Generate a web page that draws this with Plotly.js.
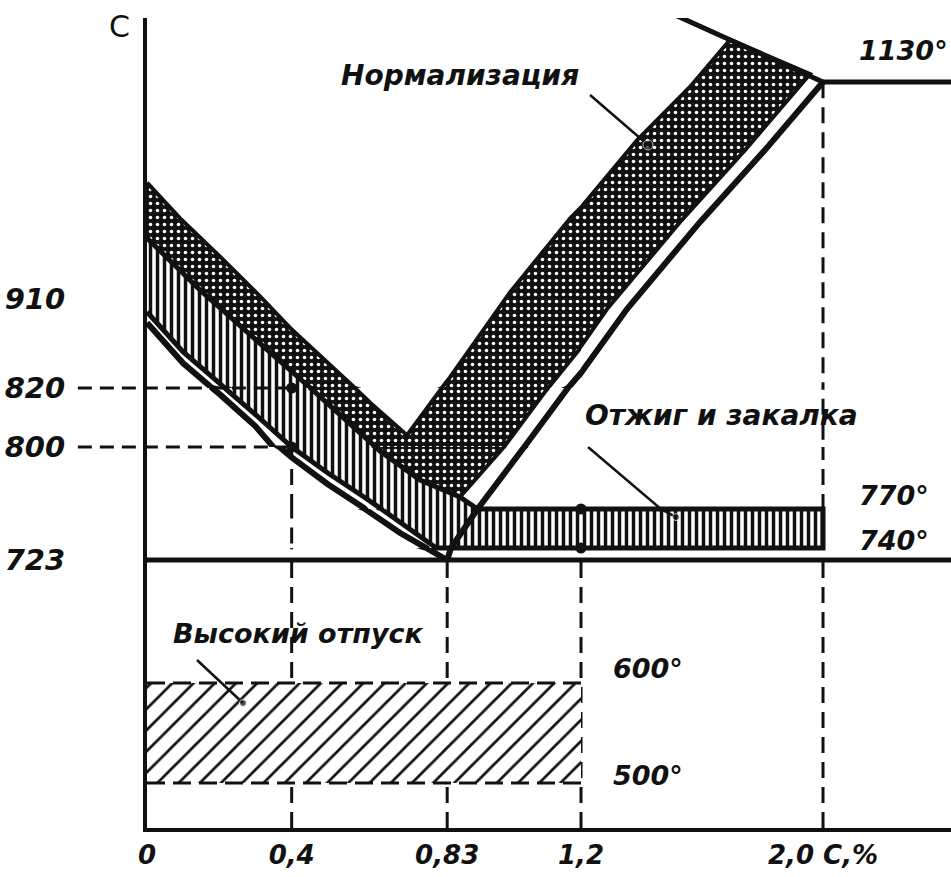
<!DOCTYPE html>
<html>
<head>
<meta charset="utf-8">
<script src="https://cdn.plot.ly/plotly-3.0.1.min.js"></script>
<style>
html,body{margin:0;padding:0;background:#fff;}
#chart{width:951px;height:877px;}
</style>
</head>
<body>
<div id="chart"></div>
<script>
// ---------- data: carbon content, % (C) and temperature, °C (T) ----------
// GS line (A3)
const gsC = [0, 0.1, 0.18, 0.2, 0.3, 0.366, 0.4, 0.5, 0.6, 0.7, 0.772, 0.83];
const gsT = [886, 845, 820, 818, 807, 800, 795, 782, 770.5, 751.5, 740, 723];
// SE line (Acm)
const acmC = [0.83, 0.8405, 0.914, 1.043, 1.156, 1.164, 1.352, 1.593, 1.808, 2.0];
const acmT = [723, 740, 770, 800, 818.6, 820, 900, 988, 1061, 1130];
// solidus above point E
const solidusC = [1.51, 2.0];
const solidusT = [1198, 1130];
// eutectic line 1130
const eutecticC = [2.0, 2.6];
const eutecticT = [1130, 1130];
// eutectoid line 723
const eutectoidC = [0, 2.6];
const eutectoidT = [723, 723];

// Normalization zone
const normTopC = [0, 0.091, 0.202, 0.312, 0.401, 0.506, 0.575, 0.617, 0.719];
const normTopT = [1028, 992, 953, 913, 879, 843, 820, 815, 804];
const normLeftEdgeC = [0.719, 0.815, 0.838, 1.004, 1.17, 1.385, 1.56, 1.693];
const normLeftEdgeT = [804, 820, 831, 917, 992, 1071, 1125, 1173];
const normRightEdgeC = [1.957, 1.742, 1.527, 1.286, 1.109, 1.1, 0.987, 0.865];
const normRightEdgeT = [1138, 1061, 988, 900, 820, 818.6, 800, 775.8];

// Annealing and hardening zone
const hardTopC = [0.865, 0.755, 0.644, 0.632, 0.534, 0.452, 0.401, 0.285, 0.147, 0];
const hardTopT = [775.8, 784, 798, 800, 811, 820, 836, 874, 919, 972];
const hardBottomC = [0, 0.1, 0.2, 0.215, 0.3, 0.4, 0.5, 0.6, 0.648, 0.7, 0.8];
const hardBottomT = [897, 856.5, 825, 820, 811, 800, 787.4, 775.8, 770, 760, 740];
const bandC = [0.914, 2.0];
const bandT = [740, 770];

// High tempering zone
const temperC = [0, 1.2];
const temperT = [500, 600];

// guide lines and points
const guideC = [0.4, 0.83, 1.2, 2.0];
const guideTopT = [820, 723, 770, 1130];
const leftGuideT = [820, 800];
const pointC = [0.4, 0.4, 1.2, 1.2];
const pointT = [820, 800, 770, 740];

// tick labels
const xTickVals = [0, 0.4, 0.83, 1.2, 2.0];
const xTickText = ['0', '0,4', '0,83', '1,2', '2,0 C,%'];
const yTickVals = [723, 800, 820, 910];
const yTickText = ['723', '800', '820', '910'];

// zone names and their leader lines
const zoneNames = ['Нормализация', 'Отжиг и закалка', 'Высокий отпуск'];
const leaderNormC = [1.23, 1.4215], leaderNormT = [1116.8, 1066.2];
const leaderAnnC = [1.2231, 1.514], leaderAnnT = [800, 763.8];
const leaderTempC = [0.1382, 0.2654], leaderTempT = [623, 580];

// ---------- schematic (piecewise) axis construction ----------
const black = '#111';
const plotTop = 18, plotBottom = 828, plotH = 810, plotLeft = 147, plotW = 804;
// x: two linear pieces, split at C = 1.2
const xBreakC = [0, 1.2, 2.4231];
const xBreakPx = [147, 581, 951];
// T: linear pieces of the schematic temperature scale
const yBreakT = [455, 723, 740, 770, 800, 820, 1194.84];
const yBreakPx = [828, 560, 548, 509, 447, 388, 18];

function tToPx(t) {
  for (let i = 0; i < yBreakT.length - 1; i++) {
    if (t >= yBreakT[i] && t <= yBreakT[i + 1]) {
      return yBreakPx[i] + (t - yBreakT[i]) / (yBreakT[i + 1] - yBreakT[i]) * (yBreakPx[i + 1] - yBreakPx[i]);
    }
  }
  return null;
}

const xIds = xBreakC.slice(1).map((_, i) => i === 0 ? 'x' : 'x' + (i + 1));
const yIds = yBreakT.slice(1).map((_, i) => i === 0 ? 'y' : 'y' + (i + 1));

const traces = [];
function addAll(base) {
  xIds.forEach(xa => yIds.forEach(ya => {
    traces.push(Object.assign({hoverinfo: 'skip', showlegend: false}, base, {xaxis: xa, yaxis: ya}));
  }));
}
function lineTrace(x, y, width, dash, extra) {
  return Object.assign({x: x, y: y, mode: 'lines',
    line: {color: black, width: width, dash: dash || 'solid'}}, extra || {});
}

// dashed vertical guides
const gX = [], gY = [];
guideC.forEach((c, i) => { gX.push(c, c, null); gY.push(yBreakT[0], guideTopT[i], null); });
addAll(lineTrace(gX, gY, 3, '16px,9px'));

// tempering zone (hatched, dashed borders)
addAll(lineTrace([temperC[0], temperC[1], temperC[1], temperC[0], temperC[0]],
  [temperT[0], temperT[0], temperT[1], temperT[1], temperT[0]], 0, 'solid',
  {fill: 'toself', fillcolor: '#fff',
   fillpattern: {shape: '/', size: 15, solidity: 0.18, fgcolor: black, bgcolor: '#fff'}}));
addAll(lineTrace([temperC[0], temperC[1], null, temperC[0], temperC[1]],
  [temperT[0], temperT[0], null, temperT[1], temperT[1]], 3, '18px,8px'));

// normalization zone
const normX = [].concat(normTopC, normLeftEdgeC.slice(1), normRightEdgeC, hardTopC.slice(1));
const normY = [].concat(normTopT, normLeftEdgeT.slice(1), normRightEdgeT, hardTopT.slice(1));
addAll(lineTrace(normX, normY, 4, 'solid',
  {fill: 'toself', fillcolor: black,
   fillpattern: {shape: '.', size: 7, solidity: 0.2, fgcolor: '#fff', bgcolor: black}}));

// annealing / hardening zone
const hardX = [].concat(hardTopC.slice().reverse(), [bandC[0], bandC[1], bandC[1]], hardBottomC.slice().reverse());
const hardY = [].concat(hardTopT.slice().reverse(), [bandT[1], bandT[1], bandT[0]], hardBottomT.slice().reverse());
addAll(lineTrace(hardX, hardY, 5, 'solid',
  {fill: 'toself', fillcolor: '#fff',
   fillpattern: {shape: '|', size: 7, solidity: 0.5, fgcolor: black, bgcolor: '#fff'}}));

// phase diagram lines
addAll(lineTrace(gsC, gsT, 6));
addAll(lineTrace(acmC, acmT, 6));
addAll(lineTrace(solidusC, solidusT, 5));
addAll(lineTrace(eutecticC, eutecticT, 5));
addAll(lineTrace(eutectoidC, eutectoidT, 5));

// leader lines
addAll(lineTrace(leaderNormC, leaderNormT, 2.5));
addAll(lineTrace(leaderAnnC, leaderAnnT, 2.5));
addAll(lineTrace(leaderTempC, leaderTempT, 2.5));

// points
addAll({x: pointC, y: pointT, mode: 'markers', marker: {color: black, size: 11}});
addAll({x: [leaderNormC[1], leaderAnnC[1], leaderTempC[1]],
        y: [leaderNormT[1], leaderAnnT[1], leaderTempT[1]],
        mode: 'markers', marker: {color: black, size: [10, 7, 7]}});

// axes
const axisCommon = {showgrid: false, zeroline: false, showline: true, linewidth: 4,
  linecolor: black, ticks: '', fixedrange: true};
const fontFam = 'DejaVu Sans, Liberation Sans, sans-serif';
const tickFont = {family: fontFam, size: 28, color: black, style: 'italic', weight: 'bold'};

const layout = {
  width: 951, height: 877,
  margin: {l: plotLeft, r: 951 - plotLeft - plotW, t: plotTop, b: 877 - plotBottom, pad: 0},
  paper_bgcolor: '#fff', plot_bgcolor: '#fff',
  showlegend: false, hovermode: false
};
xIds.forEach((id, i) => {
  const key = 'xaxis' + (i === 0 ? '' : i + 1);
  const lo = xBreakC[i], hi = xBreakC[i + 1];
  const idx = xTickVals.map((v, k) => k).filter(k => xTickVals[k] >= lo && (xTickVals[k] < hi || (i === 0 && xTickVals[k] === hi)) && !(i > 0 && xTickVals[k] === lo));
  layout[key] = Object.assign({}, axisCommon, {
    domain: [(xBreakPx[i] - plotLeft) / plotW, (xBreakPx[i + 1] - plotLeft) / plotW],
    range: [lo, hi], anchor: 'y',
    tickvals: idx.map(k => xTickVals[k]), ticktext: idx.map(k => xTickText[k]),
    tickfont: Object.assign({}, tickFont, {size: 26}), ticklabelstandoff: 1
  });
});
yIds.forEach((id, i) => {
  const key = 'yaxis' + (i === 0 ? '' : i + 1);
  const lo = yBreakT[i], hi = yBreakT[i + 1];
  const idx = yTickVals.map((v, k) => k).filter(k => yTickVals[k] >= lo && yTickVals[k] < hi);
  layout[key] = Object.assign({}, axisCommon, {
    domain: [(plotBottom - yBreakPx[i]) / plotH, (plotBottom - yBreakPx[i + 1]) / plotH],
    range: [lo, hi], anchor: 'x',
    tickvals: idx.map(k => yTickVals[k]), ticktext: idx.map(k => yTickText[k]),
    tickfont: Object.assign({}, tickFont, {size: 29}), ticklabelstandoff: 72
  });
});

// dashed guides 820 and 800, starting next to their labels
const xPaperOf = c => (xBreakPx[0] + (c - xBreakC[0]) / (xBreakC[1] - xBreakC[0]) * (xBreakPx[1] - xBreakPx[0]) - plotLeft) / plotW;
layout.shapes = leftGuideT.map(t => ({
  type: 'line', xref: 'paper', yref: 'paper',
  x0: -0.086, x1: xPaperOf(pointC[0]),
  y0: (plotBottom - tToPx(t)) / plotH, y1: (plotBottom - tToPx(t)) / plotH,
  line: {color: black, width: 3, dash: '14px,8px'}, layer: 'above'
}));

const degFont = {family: fontFam, size: 27, color: black, style: 'italic', weight: 'bold'};
const nameFont = {family: fontFam, size: 28, color: black, style: 'italic', weight: 'bold'};
layout.annotations = [
  {xref: 'paper', yref: 'paper', x: -0.0336, y: 0.989, xanchor: 'center', yanchor: 'middle',
   text: 'C', showarrow: false, font: {family: fontFam, size: 30, color: black}},
  {xref: 'x2', yref: 'y6', x: 2.112, y: 1130, yshift: 32, xanchor: 'left', yanchor: 'middle', text: '1130°', showarrow: false, font: degFont},
  {xref: 'x2', yref: 'y4', x: 2.112, y: 770, yshift: 14, xanchor: 'left', yanchor: 'middle', text: '770°', showarrow: false, font: degFont},
  {xref: 'x2', yref: 'y3', x: 2.112, y: 740, yshift: 8, xanchor: 'left', yanchor: 'middle', text: '740°', showarrow: false, font: degFont},
  {xref: 'x2', yref: 'y', x: 1.299, y: 600, yshift: 15, xanchor: 'left', yanchor: 'middle', text: '600°', showarrow: false, font: degFont},
  {xref: 'x2', yref: 'y', x: 1.299, y: 500, yshift: 8, xanchor: 'left', yanchor: 'middle', text: '500°', showarrow: false, font: degFont},
  {xref: 'x', yref: 'y6', x: 0.8654, y: 1137, xanchor: 'center', yanchor: 'middle', text: zoneNames[0], showarrow: false, font: nameFont},
  {xref: 'x2', yref: 'y5', x: 1.666, y: 810.8, xanchor: 'center', yanchor: 'middle', text: zoneNames[1], showarrow: false, font: nameFont},
  {xref: 'x', yref: 'y', x: 0.4175, y: 650, xanchor: 'center', yanchor: 'middle', text: zoneNames[2], showarrow: false, font: Object.assign({}, nameFont, {size: 27})}
];

Plotly.newPlot('chart', traces, layout, {staticPlot: true, displayModeBar: false});
</script>
</body>
</html>
